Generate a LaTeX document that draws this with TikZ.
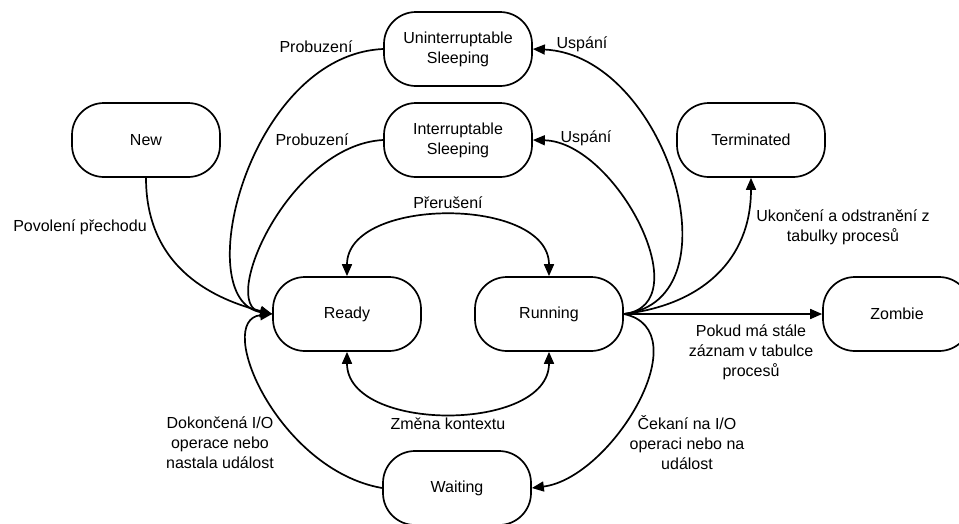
\documentclass[tikz,border=0pt]{standalone}
\usepackage{fontspec}
\setmainfont{Liberation Sans}
\usetikzlibrary{arrows.meta}
\begin{document}
\begin{tikzpicture}[x=1pt,y=-1pt,
  state/.style={draw, line width=1.7pt, rounded corners=32pt, minimum width=148pt, minimum height=74pt, align=center, font=\fontsize{16}{20}\selectfont, inner sep=0pt},
  lbl/.style={align=center, font=\fontsize{16}{20}\selectfont, inner sep=0pt},
  conn/.style={line width=1.7pt, -{Triangle[length=12pt,width=10pt]}},
  both/.style={line width=1.7pt, {Triangle[length=12pt,width=10pt]}-{Triangle[length=12pt,width=10pt]}}]
\useasboundingbox (0,0) rectangle (959,523);
\node[state] (unint) at (458,49) {Uninterruptable\\Sleeping};
\node[state] (int) at (458,140) {Interruptable\\Sleeping};
\node[state] (new) at (146,140) {New};
\node[state] (term) at (751,140) {Terminated};
\node[state] (ready) at (347,314) {Ready};
\node[state] (run) at (549,314) {Running};
\node[state] (zombie) at (897,314) {Zombie};
\node[state] (wait) at (457,488) {Waiting};

\draw[conn] (new.south) .. controls +(0,93) and +(-54,-14) .. (ready.west);
\draw[conn] (unint.west) .. controls +(-134,6) and +(-84,-14) .. (ready.west);
\draw[conn] (int.west) .. controls +(-94,5) and +(-54,-9) .. (ready.west);
\draw[conn] (wait.west) .. controls +(-104,-18) and +(-59,6) .. (ready.west);

\draw[conn] (run.east) .. controls +(117,-14) and +(133,6) .. (unint.east);
\draw[conn] (run.east) .. controls +(77,-9) and +(83,2) .. (int.east);
\draw[conn] (run.east) .. controls +(77,-9) and +(0,83) .. (term.south);
\draw[conn] (run.east) -- (zombie.west);
\draw[conn] (run.east) .. controls +(77,16) and +(80,-10) .. (wait.east);

\draw[both] (ready.north) .. controls +(0,-80) and +(0,-80) .. (run.north);
\draw[both] (ready.south) .. controls +(0,81) and +(0,81) .. (run.south);

\node[lbl] (l1) at (316,47) {Probuzení};
\node[lbl] (l2) at (312,140) {Probuzení};
\node[lbl] (l3) at (582,44) {Uspání};
\node[lbl] (l4) at (586,138) {Uspání};
\node[lbl] (l5) at (80,227) {Povolení přechodu};
\node[lbl] (l6) at (448,203) {Přerušení};
\node[lbl] (l7) at (448,424) {Změna kontextu};
\node[lbl] (l8) at (843,227) {Ukončení a odstranění z\\tabulky procesů};
\node[lbl] (l9) at (751,352) {Pokud má stále\\záznam v tabulce\\procesů};
\node[lbl] (l10) at (220,443) {Dokončená I/O\\operace nebo\\nastala událost};
\node[lbl] (l11) at (687,443) {Čekaní na I/O\\operaci nebo na\\událost};
\end{tikzpicture}
\end{document}
